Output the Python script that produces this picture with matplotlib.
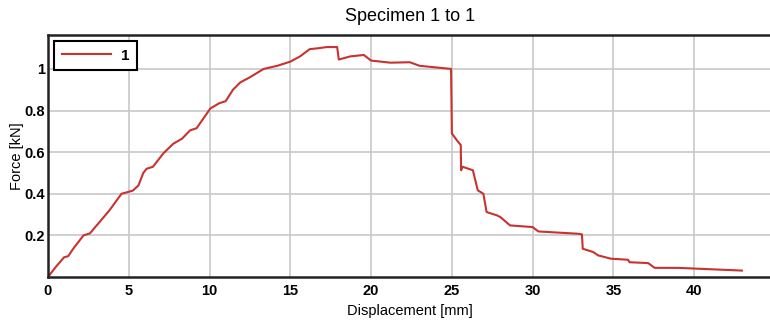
import matplotlib
matplotlib.use("Agg")
import matplotlib.pyplot as plt

# displacement [mm] / force [kN]
disp = [0, 0.5, 1.0, 1.25, 1.6, 2.2, 2.6, 3.2, 3.8, 4.55, 5.25, 5.6, 5.9,
        6.1, 6.5, 7.15, 7.75, 8.3, 8.8, 9.2, 10.05, 10.6, 11.0, 11.45, 11.9,
        12.5, 13.35, 14.2, 15.0, 15.6, 16.2, 16.8, 17.25, 17.9, 18.0, 18.7,
        19.55, 20.0, 21.2, 22.4, 23.0, 24.95, 25.0, 25.3, 25.55, 25.57,
        25.65, 26.3, 26.6, 26.95, 27.15, 27.8, 28.0, 28.6, 30.0, 30.35,
        32.8, 33.05, 33.1, 33.75, 34.05, 34.85, 35.9, 36.0, 37.15, 37.55,
        39.0, 42.95]
force = [0, 0.05, 0.095, 0.10, 0.14, 0.2, 0.21, 0.265, 0.32, 0.40, 0.415,
         0.44, 0.50, 0.52, 0.53, 0.595, 0.64, 0.665, 0.705, 0.715, 0.81,
         0.835, 0.845, 0.90, 0.935, 0.96, 1.0, 1.015, 1.035, 1.06, 1.095,
         1.10, 1.105, 1.105, 1.045, 1.06, 1.067, 1.04, 1.03, 1.032, 1.015,
         1.0, 0.69, 0.658, 0.634, 0.513, 0.53, 0.513, 0.417, 0.40, 0.312,
         0.296, 0.288, 0.248, 0.24, 0.219, 0.208, 0.205, 0.136, 0.12, 0.104,
         0.088, 0.083, 0.071, 0.067, 0.044, 0.044, 0.031]

xticks = [0, 5, 10, 15, 20, 25, 30, 35, 40]
yticks = [0.2, 0.4, 0.6, 0.8, 1]

plt.rcParams['font.family'] = ['Liberation Sans', 'DejaVu Sans']

fig = plt.figure(figsize=(7.7, 3.24), dpi=100)
ax = fig.add_axes([0.0623, 0.145, 0.94, 0.747])

ax.plot(disp, force, color='#c8322f', lw=1.5, label='1')

ax.set_xlim(0, 44.8)
ax.set_ylim(0, 1.163)
ax.set_xticks(xticks)
ax.set_yticks(yticks)
ax.set_yticklabels(['0.2', '0.4', '0.6', '0.8', '1'])
for lab in ax.get_xticklabels() + ax.get_yticklabels():
    lab.set_fontweight('bold')
    lab.set_fontsize(10.5)
ax.tick_params(axis='x', length=0, pad=5)
ax.tick_params(axis='y', length=0, pad=2)
ax.grid(color='#c8c8c8', lw=1.2)
for s in ax.spines.values():
    s.set_linewidth(1.8)
    s.set_color('#222222')

ax.set_title('Specimen 1 to 1', fontsize=13, pad=10)
ax.set_xlabel('Displacement [mm]', fontsize=10.5)
ax.xaxis.set_label_coords(0.5, -0.112)
ax.set_ylabel('Force [kN]', fontsize=10.5)
ax.yaxis.set_label_coords(-0.033, 0.5)

leg = ax.legend(loc='upper left', fancybox=False, framealpha=1,
                edgecolor='black', borderaxespad=0.4, borderpad=0.5,
                handlelength=3.2, handletextpad=0.7,
                prop={'weight': 'bold', 'size': 11})
leg.get_frame().set_linewidth(1.5)

fig.savefig('out.png', dpi=100)
